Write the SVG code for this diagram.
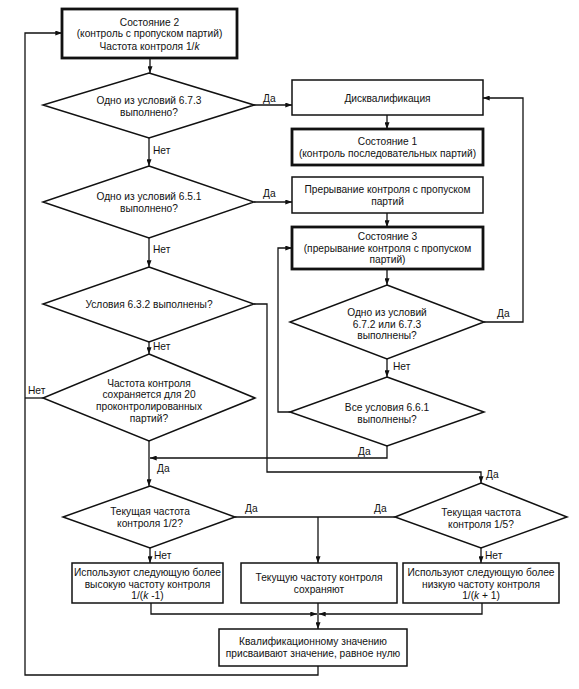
<svg xmlns="http://www.w3.org/2000/svg" width="579" height="689" viewBox="0 0 579 689">
<defs>
<style>
text{font-family:"Liberation Sans",Arial,sans-serif;font-size:10.2px;fill:#111;text-anchor:middle}
text.l{text-anchor:start}
.box{fill:#fff;stroke:#111;stroke-width:1.5}
.thick{fill:#fff;stroke:#111;stroke-width:2.8}
.dia{fill:#fff;stroke:#111;stroke-width:1.5}
.c{fill:none;stroke:#111;stroke-width:1.3}
.a{marker-end:url(#arr)}
</style>
<marker id="arr" viewBox="0 0 8 6" refX="8" refY="3" markerWidth="7" markerHeight="5" orient="auto" markerUnits="userSpaceOnUse"><path d="M0,0 L8,3 L0,6 z" fill="#111"/></marker>
</defs>
<rect width="579" height="689" fill="#fff"/>
<g id="connectors">
<path class="c a" d="M150,58 V73"/>
<path class="c a" d="M254,105 H292"/>
<path class="c a" d="M149,138 V166"/>
<path class="c a" d="M254,202 H292"/>
<path class="c a" d="M149,238 V267"/>
<path class="c a" d="M149,342 V354"/>
<path class="c a" d="M149,441 V486"/>
<path class="c" d="M43,398 H25"/>
<path class="c a" d="M318,666 V675 H25 V33 H62"/>
<path class="c a" d="M387,115 V129"/>
<path class="c a" d="M387,213 V227"/>
<path class="c a" d="M387,269 V285"/>
<path class="c a" d="M387,359 V377"/>
<path class="c a" d="M484,322 H523 V98 H483"/>
<path class="c a" d="M290,412 H278 V248 H292"/>
<path class="c a" d="M387,446 V458 H150"/>
<path class="c a" d="M254,304 H267 V472 H481 V483"/>
<path class="c" d="M235,517 H395"/>
<path class="c a" d="M318,517 V563"/>
<path class="c a" d="M150,548 V563"/>
<path class="c a" d="M481,548 V563"/>
<path class="c a" d="M151,603 V614 H317"/>
<path class="c a" d="M482,603 V614 H319"/>
<path class="c a" d="M318,603 V629"/>
<text class="l" x="263" y="102">Да</text>
<text class="l" x="153" y="154">Нет</text>
<text class="l" x="263" y="197">Да</text>
<text class="l" x="153" y="253">Нет</text>
<text class="l" x="153" y="350">Нет</text>
<text class="l" x="28" y="394">Нет</text>
<text class="l" x="157" y="472">Да</text>
<text class="l" x="245" y="512">Да</text>
<text class="l" x="154" y="559">Нет</text>
<text class="l" x="497" y="317">Да</text>
<text class="l" x="393" y="370">Нет</text>
<text class="l" x="358" y="455">Да</text>
<text class="l" x="486" y="478">Да</text>
<text class="l" x="374" y="512">Да</text>
<text class="l" x="485" y="559">Нет</text>
</g>
<g id="state2">
<rect class="thick" x="62" y="9" width="175" height="49"/>
<text x="149.5" y="25.7">Состояние 2</text>
<text x="149.5" y="37.3">(контроль с пропуском партий)</text>
<text x="149.5" y="49.7">Частота контроля 1/<tspan font-style="italic">k</tspan></text>
</g>
<g id="d1">
<polygon class="dia" points="149,73 254,105 149,138 43,105"/>
<text x="149" y="104">Одно из условий 6.7.3</text>
<text x="149" y="116">выполнено?</text>
</g>
<g id="d2">
<polygon class="dia" points="149,166 254,202 149,238 43,202"/>
<text x="149" y="200">Одно из условий 6.5.1</text>
<text x="149" y="212">выполнено?</text>
</g>
<g id="d3">
<polygon class="dia" points="149,267 254,304 149,342 43,304"/>
<text x="149" y="308">Условия 6.3.2 выполнены?</text>
</g>
<g id="d4">
<polygon class="dia" points="149,354 255,398 149,441 43,398"/>
<text x="149" y="386.5">Частота контроля</text>
<text x="149" y="398.3">сохраняется для 20</text>
<text x="149" y="410">проконтролированных</text>
<text x="149" y="421.7">партий?</text>
</g>
<g id="disq">
<rect class="box" x="292" y="80" width="191" height="35"/>
<text x="387.5" y="101.5">Дисквалификация</text>
</g>
<g id="state1">
<rect class="thick" x="292" y="129" width="191" height="36"/>
<text x="387.5" y="145">Состояние 1</text>
<text x="387.5" y="157">(контроль последовательных партий)</text>
</g>
<g id="interrupt">
<rect class="box" x="292" y="177" width="191" height="36"/>
<text x="387.5" y="193">Прерывание контроля с пропуском</text>
<text x="387.5" y="205">партий</text>
</g>
<g id="state3">
<rect class="thick" x="292" y="227" width="191" height="42"/>
<text x="387.5" y="240">Состояние 3</text>
<text x="387.5" y="251.5">(прерывание контроля с пропуском</text>
<text x="387.5" y="263">партий)</text>
</g>
<g id="d5">
<polygon class="dia" points="387,285 484,322 387,359 290,322"/>
<text x="387" y="316">Одно из условий</text>
<text x="387" y="327.5">6.7.2 или 6.7.3</text>
<text x="387" y="339">выполнены?</text>
</g>
<g id="d6">
<polygon class="dia" points="387,377 484,412 387,446 290,412"/>
<text x="387" y="411">Все условия 6.6.1</text>
<text x="387" y="423">выполнены?</text>
</g>
<g id="d7">
<polygon class="dia" points="150,486 235,517 150,548 63,517"/>
<text x="150" y="515">Текущая частота</text>
<text x="150" y="527">контроля 1/2?</text>
</g>
<g id="d8">
<polygon class="dia" points="481,483 567,517 481,548 395,517"/>
<text x="481" y="516">Текущая частота</text>
<text x="481" y="527.5">контроля 1/5?</text>
</g>
<g id="higher">
<rect class="box" x="72" y="563" width="151" height="40"/>
<text x="147.5" y="576">Используют следующую более</text>
<text x="147.5" y="587.5">высокую частоту контроля</text>
<text x="147.5" y="599">1/(<tspan font-style="italic">k</tspan> -1)</text>
</g>
<g id="keep">
<rect class="box" x="241" y="563" width="156" height="40"/>
<text x="319" y="581">Текущую частоту контроля</text>
<text x="319" y="593">сохраняют</text>
</g>
<g id="lower">
<rect class="box" x="403" y="563" width="156" height="40"/>
<text x="481" y="576">Используют следующую более</text>
<text x="481" y="587.5">низкую частоту контроля</text>
<text x="481" y="599">1/(<tspan font-style="italic">k</tspan> + 1)</text>
</g>
<g id="reset">
<rect class="box" x="219" y="629" width="188" height="37"/>
<text x="313" y="644.5">Квалификационному значению</text>
<text x="313" y="657">присваивают значение, равное нулю</text>
</g>
</svg>
